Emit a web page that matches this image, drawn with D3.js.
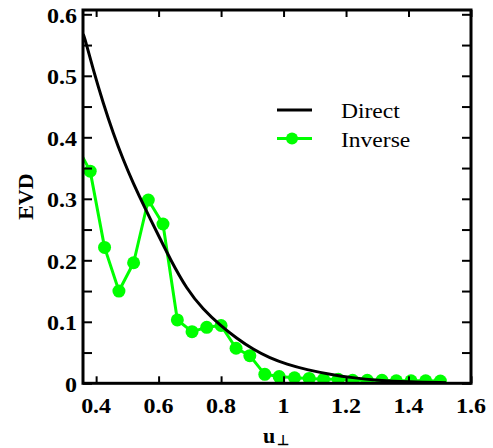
<!DOCTYPE html>
<html>
<head>
<meta charset="utf-8">
<script src="https://cdn.jsdelivr.net/npm/d3@7"></script>
</head>
<body style="margin:0">
<svg id="chart" width="493" height="448" style="display:block"></svg>
<script>
// ---- Data ----
const directU   = [0.358, 0.364, 0.391, 0.423, 0.455, 0.487, 0.519, 0.556, 0.604, 0.636, 0.690, 0.743, 0.796, 0.850, 0.903, 0.956, 1.010, 1.074, 1.150, 1.220, 1.300, 1.400, 1.520];
const directEVD = [0.568, 0.561, 0.509, 0.455, 0.406, 0.363, 0.325, 0.285, 0.236, 0.203, 0.153, 0.120, 0.095, 0.073, 0.055, 0.041, 0.031, 0.022, 0.0145, 0.009, 0.0048, 0.0022, 0.001];

const inverseU   = [0.334, 0.381, 0.427, 0.473, 0.520, 0.567, 0.614, 0.660, 0.707, 0.754, 0.800, 0.848, 0.892, 0.940, 0.986, 1.035, 1.082, 1.128, 1.175, 1.221, 1.268, 1.315, 1.361, 1.408, 1.455, 1.502];
const inverseEVD = [0.390, 0.345, 0.221, 0.150, 0.196, 0.298, 0.259, 0.103, 0.084, 0.091, 0.094, 0.057, 0.045, 0.0146, 0.011, 0.009, 0.008, 0.0065, 0.0065, 0.005, 0.005, 0.005, 0.004, 0.004, 0.004, 0.0037];

const xTickValues = [0.4, 0.6, 0.8, 1.0, 1.2, 1.4, 1.6];
const xTickLabels = ["0.4", "0.6", "0.8", "1", "1.2", "1.4", "1.6"];
const yTickValues = [0, 0.1, 0.2, 0.3, 0.4, 0.5, 0.6];
const yTickLabels = ["0", "0.1", "0.2", "0.3", "0.4", "0.5", "0.6"];
const yMinorValues = [0, 0.05, 0.1, 0.15, 0.2, 0.25, 0.3, 0.35, 0.4, 0.45, 0.5, 0.55, 0.6];

const seriesNames = ["Direct", "Inverse"];
const xTitle = "u";
const xTitleSub = "\u22A5";
const yTitle = "EVD";

const SERIF = '"Liberation Serif", "Times New Roman", Tinos, "Nimbus Roman"';

function draw() {
  const svg = d3.select("#chart");
  svg.selectAll("*").remove();
  const L = 83, R = 471, T = 10, B = 383.3;
  const GREEN = "#00ff00";

  const x = d3.scaleLinear().domain([0.358, 1.6]).range([L, R]);
  const y = d3.scaleLinear().domain([0, 0.607]).range([B, T]);

  svg.append("defs").append("clipPath").attr("id", "plotclip")
    .append("rect").attr("x", L).attr("y", T).attr("width", R - L).attr("height", B - T);

  const plot = svg.append("g").attr("clip-path", "url(#plotclip)");

  // Inverse series (drawn first, underneath)
  const invData = inverseU.map((u, i) => [u, inverseEVD[i]]);
  plot.append("path")
    .datum(invData)
    .attr("fill", "none")
    .attr("stroke", GREEN)
    .attr("stroke-width", 3)
    .attr("stroke-linejoin", "round")
    .attr("d", d3.line().x(d => x(d[0])).y(d => y(d[1])));
  plot.selectAll("circle.inv")
    .data(invData)
    .join("circle")
    .attr("class", "inv")
    .attr("cx", d => x(d[0]))
    .attr("cy", d => y(d[1]))
    .attr("r", 6.5)
    .attr("fill", GREEN);

  // Direct series
  const dirData = directU.map((u, i) => [u, directEVD[i]]);
  plot.append("path")
    .datum(dirData)
    .attr("fill", "none")
    .attr("stroke", "#000")
    .attr("stroke-width", 3)
    .attr("d", d3.line().curve(d3.curveBasis).x(d => x(d[0])).y(d => y(d[1])));

  // ---- Axes (ticks inward) ----
  function styleAxis(g) {
    g.select(".domain").remove();
    g.selectAll(".tick line").attr("stroke", "#000").attr("stroke-width", 2);
    g.selectAll(".tick text").remove();
  }
  svg.append("g").attr("transform", `translate(0,${B})`)
    .call(d3.axisBottom(x).tickValues(xTickValues).tickSize(-7).tickFormat(""))
    .call(styleAxis);
  svg.append("g").attr("transform", `translate(0,${T})`)
    .call(d3.axisTop(x).tickValues(xTickValues).tickSize(-7).tickFormat(""))
    .call(styleAxis);
  svg.append("g").attr("transform", `translate(${L},0)`)
    .call(d3.axisLeft(y).tickValues(yMinorValues).tickSize(-9).tickFormat(""))
    .call(styleAxis);
  svg.append("g").attr("transform", `translate(${R},0)`)
    .call(d3.axisRight(y).tickValues(yMinorValues).tickSize(-9).tickFormat(""))
    .call(styleAxis);

  // Frame
  svg.append("rect")
    .attr("x", L).attr("y", T).attr("width", R - L).attr("height", B - T)
    .attr("fill", "none").attr("stroke", "#000").attr("stroke-width", 3);

  // Tick labels
  svg.append("g").selectAll("text")
    .data(xTickValues)
    .join("text")
    .attr("transform", d => `translate(${x(d)},413) scale(1.2,1)`)
    .attr("text-anchor", "middle")
    .style("font-family", SERIF).style("font-weight", "bold").style("font-size", "20px")
    .text((d, i) => xTickLabels[i]);
  svg.append("g").selectAll("text")
    .data(yTickValues)
    .join("text")
    .attr("transform", d => `translate(77,${y(d) + 8.5}) scale(1.2,1)`)
    .attr("text-anchor", "end")
    .style("font-family", SERIF).style("font-weight", "bold").style("font-size", "20px")
    .text((d, i) => yTickLabels[i]);

  // Axis titles
  svg.append("text")
    .attr("transform", `translate(33,${(T + B) / 2}) rotate(-90)`)
    .attr("text-anchor", "middle")
    .style("font-family", SERIF).style("font-weight", "bold").style("font-size", "22px")
    .text(yTitle);
  const xt = svg.append("text")
    .attr("x", 263).attr("y", 443)
    .style("font-family", SERIF).style("font-weight", "bold").style("font-size", "22px");
  xt.append("tspan").text(xTitle);
  xt.append("tspan").attr("dx", 2).attr("dy", 2).style("font-size", "14px").text(xTitleSub);

  // Legend
  const lg = svg.append("g");
  lg.append("line").attr("x1", 277).attr("x2", 312).attr("y1", 110).attr("y2", 110)
    .attr("stroke", "#000").attr("stroke-width", 3);
  lg.append("line").attr("x1", 277).attr("x2", 312).attr("y1", 138.5).attr("y2", 138.5)
    .attr("stroke", GREEN).attr("stroke-width", 3);
  lg.append("circle").attr("cx", 292).attr("cy", 138.5).attr("r", 6).attr("fill", GREEN);
  lg.selectAll("text.lt")
    .data(seriesNames)
    .join("text")
    .attr("class", "lt")
    .attr("transform", (d, i) => `translate(341,${118.3 + i * 29}) scale(1.07,1)`)
    .style("font-family", SERIF).style("font-size", "22px")
    .text(d => d);
}

draw();
const loads = [
  document.fonts.load('bold 20px "Liberation Serif"'),
  document.fonts.load('22px "Liberation Serif"')
];
Promise.race([Promise.all(loads), new Promise(r => setTimeout(r, 1500))]).then(draw);
</script>
</body>
</html>
